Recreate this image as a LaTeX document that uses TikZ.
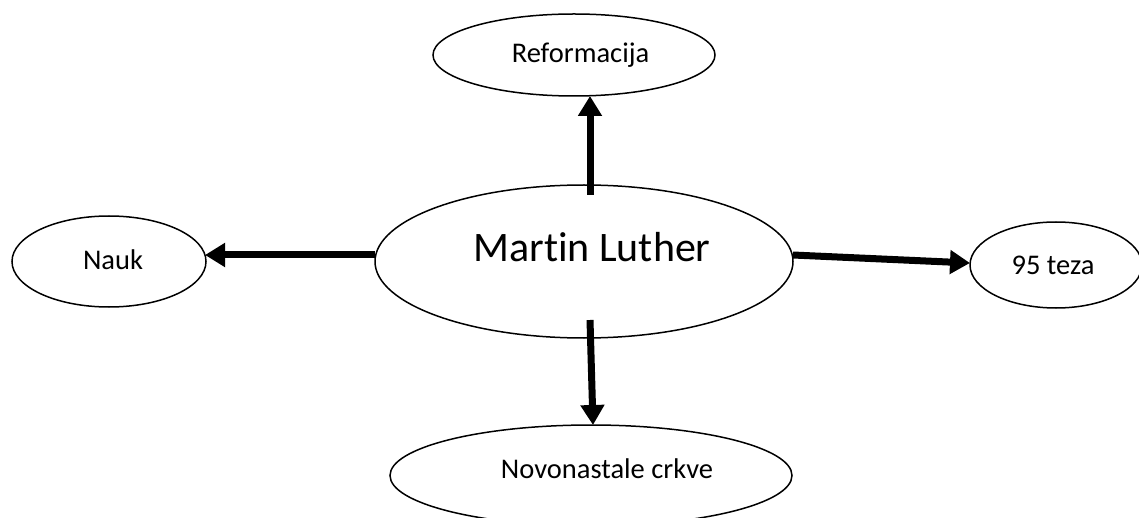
\documentclass[tikz,border=0pt]{standalone}
\usepackage{fontspec}
\setmainfont{Carlito}[Ligatures={NoCommon}]
\usetikzlibrary{shapes.geometric,arrows.meta}
\tikzset{
  ell/.style={draw=black, line width=1.5pt, ellipse, inner sep=0pt, outer sep=0pt},
  lbl/.style={font=\fontsize{28.5}{32}\selectfont, inner sep=0pt},
  biglbl/.style={font=\fontsize{42}{46}\selectfont, inner sep=0pt},
  conn/.style={line width=7pt, -{Triangle[length=20pt,width=23pt]}}
}
\begin{document}
\begin{tikzpicture}[x=1pt,y=-1pt]
\useasboundingbox (0,0) rectangle (1139,518);
\clip (0,0) rectangle (1139,518);
% ellipses
\node[ell, minimum width=418pt, minimum height=153pt] (ml) at (584,261.5) {};
\node[ell, minimum width=282pt, minimum height=82pt] (ref) at (574,55) {};
\node[ell, minimum width=194pt, minimum height=91pt] (nauk) at (109,261.5) {};
\node[ell, minimum width=172pt, minimum height=86pt] (teza) at (1056,265) {};
\node[ell, minimum width=402pt, minimum height=101pt] (nov) at (591,475.5) {};
% texts
\node[biglbl] (mlt) at (592,247) {Martin Luther};
\node[lbl] (reft) at (580.5,55) {Reformacija};
\node[lbl] (naukt) at (113,260) {Nauk};
\node[lbl] (tezat) at (1053,265) {95 teza};
\node[lbl] (novt) at (607,469) {Novonastale crkve};
% connectors
\draw[conn] ([xshift=6pt,yshift=-10pt]ml.north) -- ([xshift=16pt]ref.south);
\draw[conn] ([yshift=6.5pt]ml.west) -- ([yshift=6.5pt,xshift=-1pt]nauk.east);
\draw[conn] ([yshift=6.5pt]ml.east) -- ([yshift=2pt]teza.west);
\draw[conn] ([xshift=6pt,yshift=18pt]ml.south) -- ([xshift=2pt]nov.north);
\end{tikzpicture}
\end{document}
